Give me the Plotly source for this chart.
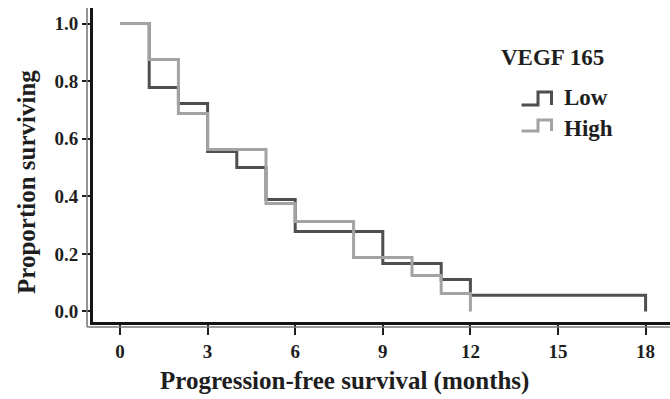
import plotly.graph_objects as go

# Data (Kaplan-Meier step points)
low_months = [0, 1, 2, 3, 4, 5, 6, 9, 11, 12, 18]
low_surv = [1.0, 0.778, 0.722, 0.556, 0.5, 0.389, 0.278, 0.167, 0.111, 0.056, 0.0]
high_months = [0, 1, 2, 3, 5, 6, 8, 10, 11, 12]
high_surv = [1.0, 0.875, 0.6875, 0.5625, 0.375, 0.3125, 0.1875, 0.125, 0.0625, 0.0]
x_ticks = [0, 3, 6, 9, 12, 15, 18]
y_ticks = [0.0, 0.2, 0.4, 0.6, 0.8, 1.0]
legend_title = "VEGF 165"
series_names = ["Low", "High"]
x_title = "Progression-free survival (months)"
y_title = "Proportion surviving"

DARK = "#4f4f4f"
LIGHT = "#a3a3a3"
FONT = "Liberation Serif"
TXT = "#1e1e1e"

W, H = 670, 399
L, R, T, B = 93, 0, 8, 77
PW, PH = W - L - R, H - T - B

def px(x):
    return (x - L) / PW

def py(y):
    return 1 - (y - T) / PH

fig = go.Figure()
fig.add_trace(go.Scatter(x=low_months, y=low_surv, mode="lines", line_shape="hv",
                         line=dict(color=DARK, width=3), name=series_names[0], showlegend=False))
fig.add_trace(go.Scatter(x=high_months, y=high_surv, mode="lines", line_shape="hv",
                         line=dict(color=LIGHT, width=3), name=series_names[1], showlegend=False))

shapes = []
# outer gray lines of the double axis
shapes.append(dict(type="line", xref="paper", yref="paper", x0=px(87), x1=px(87),
                   y0=py(327), y1=py(8), line=dict(color="#7a7a7a", width=1.6)))
shapes.append(dict(type="line", xref="paper", yref="paper", x0=px(87), x1=1.0,
                   y0=py(327), y1=py(327), line=dict(color="#7a7a7a", width=1.6)))

# legend icons (step glyphs)
def step_icon(ytop, ybot, color):
    path = (f"M {px(521.5)},{py(ybot)} L {px(538)},{py(ybot)} L {px(538)},{py(ytop)} "
            f"L {px(551.5)},{py(ytop)} L {px(551.5)},{py(ybot)}")
    return dict(type="path", xref="paper", yref="paper", path=path,
                line=dict(color=color, width=3))

shapes.append(step_icon(92, 105, DARK))
shapes.append(step_icon(120, 131, LIGHT))

legfont = dict(family=FONT, size=23, color=TXT, weight="bold")
titlefont = dict(family=FONT, size=25, color=TXT, weight="bold")
annotations = [
    dict(text=legend_title, xref="paper", yref="paper", x=px(499), y=py(58),
         xanchor="left", yanchor="middle", showarrow=False, font=legfont),
    dict(text=series_names[0], xref="paper", yref="paper", x=px(562), y=py(97),
         xanchor="left", yanchor="middle", showarrow=False, font=legfont),
    dict(text=series_names[1], xref="paper", yref="paper", x=px(562), y=py(128),
         xanchor="left", yanchor="middle", showarrow=False, font=legfont),
    dict(text=x_title, xref="paper", yref="paper", x=px(344), y=py(381),
         xanchor="center", yanchor="middle", showarrow=False, font=titlefont),
    dict(text=y_title, xref="paper", yref="paper", x=px(26), y=py(182),
         xanchor="center", yanchor="middle", textangle=-90, showarrow=False, font=titlefont),
]

fig.update_layout(
    width=W, height=H,
    margin=dict(l=L, r=R, t=T, b=B),
    paper_bgcolor="white", plot_bgcolor="white",
    font=dict(family=FONT, color=TXT),
    shapes=shapes, annotations=annotations,
    showlegend=False,
)
fig.update_xaxes(
    range=[-(120 - L) / 29.2, (W - 120) / 29.2],
    tickvals=x_ticks, ticks="outside", ticklen=10, tickwidth=2, tickcolor=TXT,
    showline=True, linecolor="#151515", linewidth=3, showgrid=False, zeroline=False,
    tickfont=dict(family=FONT, size=19, color=TXT, weight="bold"),
)
fig.update_yaxes(
    range=[-(321.5 - 311) / 287.5, 1 + (23.5 - T) / 287.5],
    tickvals=y_ticks, tickformat=".1f", ticks="outside", ticklen=8, tickwidth=2, tickcolor=TXT,
    showline=True, linecolor="#151515", linewidth=3, showgrid=False, zeroline=False,
    tickfont=dict(family=FONT, size=19, color=TXT, weight="bold"),
)

fig.write_html("out.html")
